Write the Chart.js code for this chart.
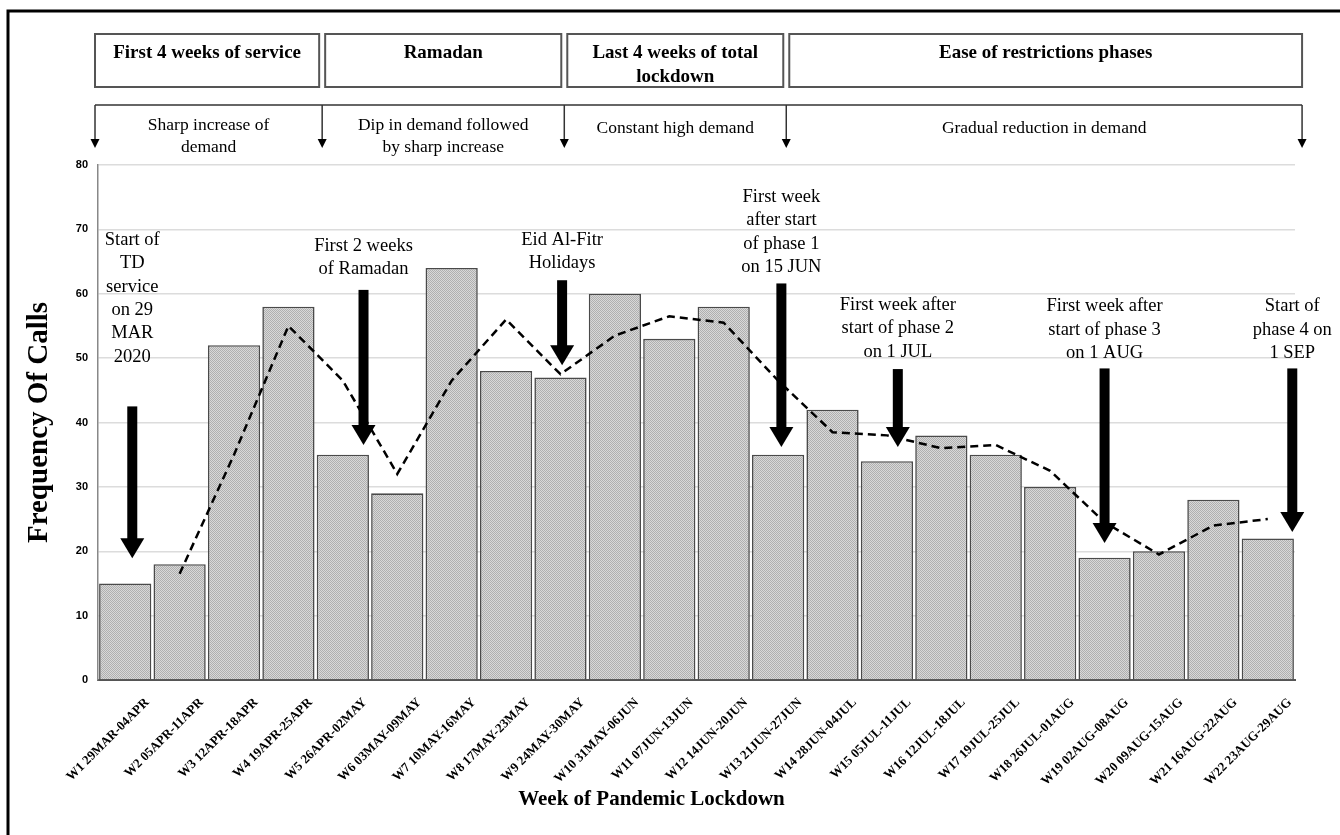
<!DOCTYPE html>
<html>
<head>
<meta charset="utf-8">
<script src="https://cdn.jsdelivr.net/npm/chart.js@4.4.1/dist/chart.umd.min.js"></script>
<style>
  html, body { margin: 0; padding: 0; background: #fff; }
  #wrap { position: relative; width: 1340px; height: 835px; }
</style>
</head>
<body>
<div id="wrap"><canvas id="callsChart" width="1340" height="835"></canvas></div>
<script>
// Data
const weekLabels = [
    "W1 29MAR-04APR", "W2 05APR-11APR", "W3 12APR-18APR", "W4 19APR-25APR",
    "W5 26APR-02MAY", "W6 03MAY-09MAY", "W7 10MAY-16MAY", "W8 17MAY-23MAY",
    "W9 24MAY-30MAY", "W10 31MAY-06JUN", "W11 07JUN-13JUN", "W12 14JUN-20JUN",
    "W13 21JUN-27JUN", "W14 28JUN-04JUL", "W15 05JUL-11JUL", "W16 12JUL-18JUL",
    "W17 19JUL-25JUL", "W18 26JUL-01AUG", "W19 02AUG-08AUG", "W20 09AUG-15AUG",
    "W21 16AUG-22AUG", "W22 23AUG-29AUG"
];
const callCounts = [15, 18, 52, 58, 35, 29, 64, 48, 47, 60, 53, 58, 35, 42, 34, 38, 35, 30, 19, 20, 28, 22];
const trendValues = [null, 16.5, 35, 55, 46.5, 32, 46.5, 56, 47.5, 53.5, 56.5, 55.5, 46.5, 38.5, 38, 36, 36.5, 32.5, 24.5, 19.5, 24, 25];
const yTicks = [0, 10, 20, 30, 40, 50, 60, 70, 80];

const phaseTitles = [
    ["First 4 weeks of service"],
    ["Ramadan"],
    ["Last 4 weeks of total", "lockdown"],
    ["Ease of restrictions phases"]
];
const phaseNotes = [
    ["Sharp increase of", "demand"],
    ["Dip in demand followed", "by sharp increase"],
    ["Constant high demand"],
    ["Gradual reduction in demand"]
];
// phase borders, in week index units
const phaseEdges = [-0.555, 3.62, 8.07, 12.15, 21.63];

// event call-outs: week index, arrow top / tip and first text line, in call units
const eventTexts = [
    ["Start of", "TD", "service", "on 29", "MAR", "2020"],
    ["First 2 weeks", "of Ramadan"],
    ["Eid Al-Fitr", "Holidays"],
    ["First week", "after start", "of phase 1", "on 15 JUN"],
    ["First week after", "start of phase 2", "on 1 JUL"],
    ["First week after", "start of phase 3", "on 1 AUG"],
    ["Start of", "phase 4 on", "1 SEP"]
];
const eventWeek = [0.13, 4.38, 8.03, 12.06, 14.2, 18.0, 21.45];
const eventArrowTop = [42.5, 60.6, 62.1, 61.6, 48.3, 48.4, 48.4];
const eventArrowTip = [18.9, 36.5, 48.9, 36.2, 36.2, 21.3, 23];
const eventTextTop = [68.3, 67.4, 68.3, 75, 58.2, 58, 58];

const SERIF = '"Liberation Serif", "Times New Roman", serif';

function stipple() {
    const c = document.createElement("canvas");
    c.width = 2; c.height = 2;
    const g = c.getContext("2d");
    g.fillStyle = "#d8d8d8";
    g.fillRect(0, 0, 2, 2);
    g.fillStyle = "#afafaf";
    g.fillRect(0, 0, 1, 1);
    g.fillRect(1, 1, 1, 1);
    return g.createPattern(c, "repeat");
}

function bigArrow(ctx, px, yTop, yTip) {
    const shaft = 10, headW = 24, headH = 20;
    ctx.fillStyle = "#000";
    ctx.fillRect(px - shaft / 2, yTop, shaft, yTip - headH - yTop + 1);
    ctx.beginPath();
    ctx.moveTo(px - headW / 2, yTip - headH);
    ctx.lineTo(px + headW / 2, yTip - headH);
    ctx.lineTo(px, yTip);
    ctx.closePath();
    ctx.fill();
}

function smallArrow(ctx, px, yTop, yTip) {
    ctx.beginPath();
    ctx.moveTo(px, yTop);
    ctx.lineTo(px, yTip - 8);
    ctx.stroke();
    ctx.beginPath();
    ctx.moveTo(px - 4.5, yTip - 9);
    ctx.lineTo(px + 4.5, yTip - 9);
    ctx.lineTo(px, yTip);
    ctx.closePath();
    ctx.fill();
}

const overlay = {
    id: "overlay",
    afterDatasetsDraw(chart) {
        const { ctx, chartArea: area, scales: { x, y } } = chart;
        ctx.save();

        // outer frame (only top and left edges are visible)
        ctx.strokeStyle = "#000";
        ctx.lineWidth = 3;
        ctx.beginPath();
        ctx.moveTo(8, chart.height);
        ctx.lineTo(8, 11);
        ctx.lineTo(chart.width, 11);
        ctx.stroke();

        // phase header boxes
        const edges = phaseEdges.map(v => x.getPixelForValue(v));
        ctx.strokeStyle = "#555";
        ctx.lineWidth = 2;
        ctx.fillStyle = "#000";
        ctx.textAlign = "center";
        ctx.textBaseline = "middle";
        phaseTitles.forEach((lines, i) => {
            const l = edges[i] + (i === 0 ? 0 : 3);
            const r = edges[i + 1] - (i === phaseTitles.length - 1 ? 0 : 3);
            ctx.strokeRect(l, 34, r - l, 53);
            ctx.font = "bold 19px " + SERIF;
            lines.forEach((t, k) => ctx.fillText(t, (l + r) / 2, 53 + k * 24));
        });

        // phase bracket with arrows
        ctx.strokeStyle = "#333";
        ctx.lineWidth = 1.5;
        ctx.beginPath();
        ctx.moveTo(edges[0], 105);
        ctx.lineTo(edges[edges.length - 1], 105);
        ctx.stroke();
        ctx.fillStyle = "#000";
        edges.forEach(px => smallArrow(ctx, px, 105, 148));
        ctx.font = "17.5px " + SERIF;
        phaseNotes.forEach((lines, i) => {
            const cx = (edges[i] + edges[i + 1]) / 2;
            const top = lines.length > 1 ? 125 : 128;
            lines.forEach((t, k) => ctx.fillText(t, cx, top + k * 22));
        });

        // event call-outs
        eventTexts.forEach((lines, i) => {
            const px = x.getPixelForValue(eventWeek[i]);
            bigArrow(ctx, px, y.getPixelForValue(eventArrowTop[i]), y.getPixelForValue(eventArrowTip[i]));
            ctx.fillStyle = "#000";
            ctx.font = "18.5px " + SERIF;
            const top = y.getPixelForValue(eventTextTop[i]);
            lines.forEach((t, k) => ctx.fillText(t, px, top + k * 23.3));
        });

        // x axis title
        ctx.font = "bold 21px " + SERIF;
        ctx.fillText("Week of Pandemic Lockdown", (8 + area.right) / 2, 800);

        ctx.restore();
    }
};

const ctx = document.getElementById("callsChart").getContext("2d");
new Chart(ctx, {
    type: "bar",
    data: {
        labels: weekLabels,
        datasets: [
            {
                type: "line",
                data: trendValues,
                borderColor: "#000",
                borderWidth: 2.5,
                borderDash: [8, 5],
                pointRadius: 0,
                fill: false,
                tension: 0,
                spanGaps: false,
                order: 0
            },
            {
                type: "bar",
                data: callCounts,
                backgroundColor: stipple(),
                borderColor: "#4a4a4a",
                borderWidth: 1.6,
                categoryPercentage: 0.96,
                barPercentage: 1.0,
                order: 1
            }
        ]
    },
    options: {
        responsive: false,
        animation: false,
        devicePixelRatio: 1,
        layout: { padding: { top: 165, left: 8, right: 45, bottom: 25 } },
        plugins: {
            legend: { display: false },
            tooltip: { enabled: false }
        },
        scales: {
            x: {
                grid: { display: false },
                border: { color: "#555", width: 2 },
                ticks: {
                    color: "#000",
                    font: { family: SERIF, size: 13, weight: "bold" },
                    minRotation: 45,
                    maxRotation: 45,
                    autoSkip: false,
                    padding: 7,
                    labelOffset: 22
                },
                afterFit: s => { s.height = 130; }
            },
            y: {
                min: 0,
                max: 80,
                afterBuildTicks: s => { s.ticks = yTicks.map(v => ({ value: v })); },
                grid: { color: "#dcdcdc", lineWidth: 1.5, drawTicks: false },
                border: { color: "#888", width: 1.5 },
                ticks: {
                    color: "#000",
                    font: { family: '"Liberation Sans", Arial, sans-serif', size: 11, weight: "bold" },
                    padding: 10
                },
                title: {
                    display: true,
                    text: "Frequency Of Calls",
                    color: "#000",
                    font: { family: SERIF, size: 29, weight: "bold" },
                    padding: { top: 14, bottom: 0 }
                },
                afterFit: s => { s.width = 90; }
            }
        }
    },
    plugins: [overlay]
});
</script>
</body>
</html>
